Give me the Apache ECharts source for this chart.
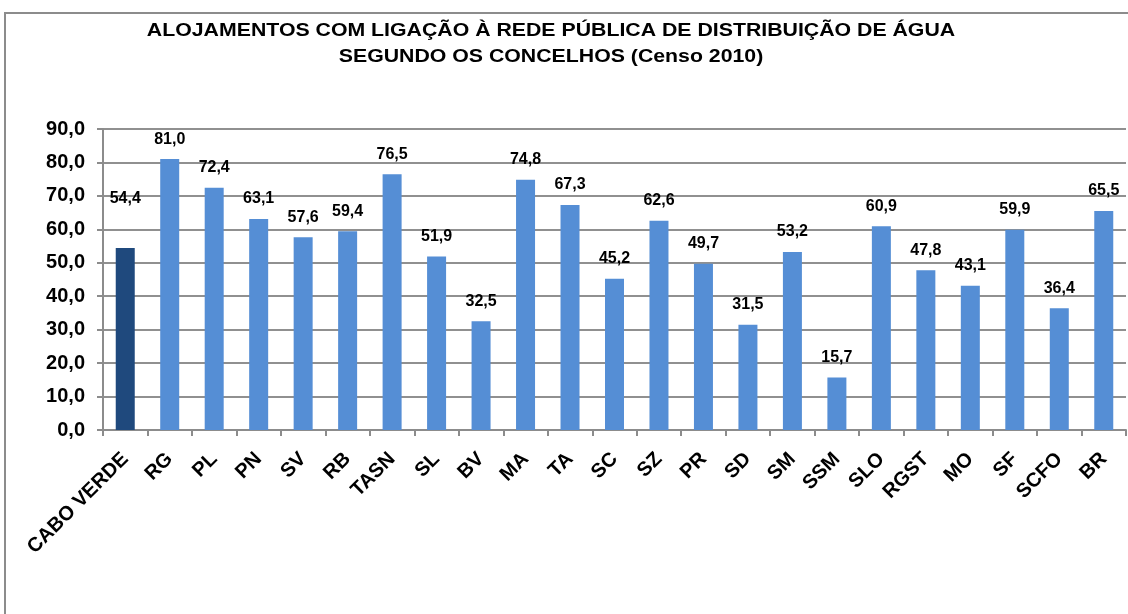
<!DOCTYPE html>
<html>
<head>
<meta charset="utf-8">
<script src="https://cdn.jsdelivr.net/npm/echarts@6/dist/echarts.min.js"></script>
<style>
  html, body { margin: 0; padding: 0; background: #fff; }
  #chart { width: 1128px; height: 614px; }
</style>
</head>
<body>
<div id="chart"></div>
<script>
// concelhos (Censo 2010)
const categories = ['CABO VERDE', 'RG', 'PL', 'PN', 'SV', 'RB', 'TASN', 'SL', 'BV', 'MA', 'TA',
    'SC', 'SZ', 'PR', 'SD', 'SM', 'SSM', 'SLO', 'RGST', 'MO', 'SF', 'SCFO', 'BR'];
const values = [54.4, 81.0, 72.4, 63.1, 57.6, 59.4, 76.5, 51.9, 32.5, 74.8, 67.3,
    45.2, 62.6, 49.7, 31.5, 53.2, 15.7, 60.9, 47.8, 43.1, 59.9, 36.4, 65.5];
const yTicks = [0, 10, 20, 30, 40, 50, 60, 70, 80, 90];
const titleLines = ['ALOJAMENTOS COM LIGAÇÃO À REDE PÚBLICA DE DISTRIBUIÇÃO DE ÁGUA',
    'SEGUNDO OS CONCELHOS (Censo 2010)'];

const FONT = '"Liberation Sans", Arial, sans-serif';
const fmt = v => Number(v).toFixed(1).replace('.', ',');

// title is a bit wide in the original, so stretch it horizontally
const titleText = titleLines.map((t, i) => ({
    type: 'text',
    x: 551,
    y: 31 + i * 26,
    scaleX: 1.12,
    silent: true,
    style: {
        text: t,
        textAlign: 'center',
        verticalAlign: 'middle',
        textVerticalAlign: 'middle',
        fontFamily: FONT,
        fontSize: 19,
        fontWeight: 'bold',
        fill: '#000'
    }
}));

const chart = echarts.init(document.getElementById('chart'));
chart.setOption({
    animation: false,
    textStyle: { fontFamily: FONT },
    graphic: [{
        type: 'rect',
        shape: { x: 5, y: 13, width: 1200, height: 700 },
        style: { fill: 'none', stroke: '#8c8c8c', lineWidth: 2 },
        silent: true
    }].concat(titleText),
    grid: { left: 103, right: 2, top: 129, bottom: 184 },
    xAxis: {
        type: 'category',
        data: categories,
        axisLine: { lineStyle: { color: '#8c8c8c', width: 2 } },
        axisTick: { show: true, alignWithLabel: false, length: 6, lineStyle: { color: '#8c8c8c', width: 2 } },
        axisLabel: {
            interval: 0,
            rotate: 45,
            color: '#000',
            fontFamily: FONT,
            fontSize: 20,
            fontWeight: 'bold',
            margin: 26
        }
    },
    yAxis: {
        type: 'value',
        min: yTicks[0],
        max: yTicks[yTicks.length - 1],
        interval: 10,
        axisLine: { show: true, lineStyle: { color: '#8c8c8c', width: 2 } },
        axisTick: { show: true, length: 6, lineStyle: { color: '#8c8c8c', width: 2 } },
        splitLine: { lineStyle: { color: '#909090', width: 2 } },
        axisLabel: {
            color: '#000',
            fontFamily: FONT,
            fontSize: 20,
            fontWeight: 'bold',
            margin: 18,
            formatter: fmt
        }
    },
    series: [{
        type: 'bar',
        barWidth: 19,
        data: values.map((v, i) => ({
            value: v,
            itemStyle: { color: i === 0 ? '#1F497D' : '#558ED5' },
            label: i === 0 ? { distance: 41 } : undefined
        })),
        label: {
            show: true,
            position: 'top',
            distance: 12,
            color: '#000',
            fontFamily: FONT,
            fontSize: 16,
            fontWeight: 'bold',
            formatter: p => fmt(p.value)
        }
    }]
});
</script>
</body>
</html>
